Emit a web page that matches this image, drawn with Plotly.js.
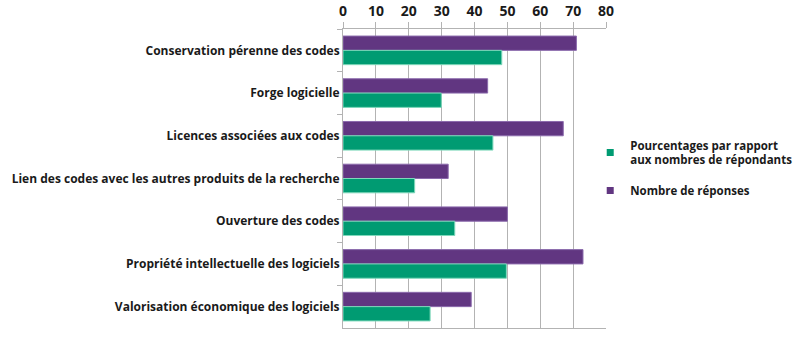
<!DOCTYPE html>
<html><head><meta charset="utf-8">
<script src="https://cdn.plot.ly/plotly-3.0.1.min.js"></script>
<style>html,body{margin:0;padding:0;background:#fff}#chart{width:795px;height:340px}</style>
</head><body><div id="chart"></div>
<script>
const categories = [
  "Conservation pérenne des codes",
  "Forge logicielle",
  "Licences associées aux codes",
  "Lien des codes avec les autres produits de la recherche",
  "Ouverture des codes",
  "Propriété intellectuelle des logiciels",
  "Valorisation économique des logiciels"
];
const nombreReponses = [71, 44, 67, 32, 50, 73, 39];
const pourcentages = [48.3, 29.9, 45.6, 21.8, 34.0, 49.7, 26.5];
const xTickVals = [0, 10, 20, 30, 40, 50, 60, 70, 80];
const nameReponses = "Nombre de réponses";
const namePourcent = "Pourcentages par rapport<br>aux nombres de répondants";

const FONT = "Open Sans, Lato, sans-serif";
const PURPLE = "#613681", GREEN = "#009b72";
const traces = [
  {type: "bar", orientation: "h", y: categories, x: nombreReponses, name: nameReponses,
   showlegend: false,
   marker: {color: PURPLE, line: {color: "#8b6aac", width: 1}}, hoverinfo: "x+y"},
  {type: "bar", orientation: "h", y: categories, x: pourcentages, name: namePourcent,
   showlegend: false,
   marker: {color: GREEN, line: {color: "#7fd8bb", width: 1}}, hoverinfo: "x+y"},
  // legend entries (small square keys as in the reference)
  {type: "scatter", mode: "markers", x: [null], y: [null], name: namePourcent,
   legendgroup: "b", legendrank: 1, showlegend: true,
   marker: {symbol: "square", size: 7, color: GREEN}},
  {type: "scatter", mode: "markers", x: [null], y: [null], name: nameReponses,
   legendgroup: "a", legendrank: 2, showlegend: true,
   marker: {symbol: "square", size: 7, color: PURPLE}}
];
const layout = {
  width: 795, height: 340,
  margin: {l: 343, r: 189, t: 28.5, b: 11.5, autoexpand: false},
  paper_bgcolor: "#fff", plot_bgcolor: "#fff",
  barmode: "group", bargap: 0.33, bargroupgap: 0,
  font: {family: FONT, color: "#1a1a1a", weight: "bold"},
  xaxis: {side: "top", range: [0, 80], tickvals: xTickVals, ticktext: xTickVals.map(String),
    showgrid: true, gridcolor: "#b3b3b3", gridwidth: 1,
    showline: true, linecolor: "#b3b3b3", linewidth: 1, mirror: true,
    ticks: "outside", ticklen: 6, tickcolor: "#b3b3b3",
    tickfont: {family: FONT, size: 14, color: "#1a1a1a", weight: "bold"}, zeroline: false, fixedrange: true,
    automargin: false},
  yaxis: {autorange: "reversed", type: "category", tickson: "boundaries",
    ticks: "outside", ticklen: 5, tickcolor: "#b3b3b3",
    showline: true, linecolor: "#b3b3b3", linewidth: 1,
    showgrid: false, automargin: false,
    tickfont: {family: FONT, size: 12, color: "#1a1a1a", weight: "bold"}, fixedrange: true},
  legend: {x: 0.94, xanchor: "left", y: 0.535, yanchor: "middle",
    bgcolor: "rgba(0,0,0,0)",
    traceorder: "grouped", tracegroupgap: 12,
    font: {family: FONT, size: 11.5, color: "#1a1a1a", weight: "bold"},
    itemwidth: 30},
  showlegend: true
};
Plotly.newPlot("chart", traces, layout, {displayModeBar: false, staticPlot: true});
</script></body></html>
